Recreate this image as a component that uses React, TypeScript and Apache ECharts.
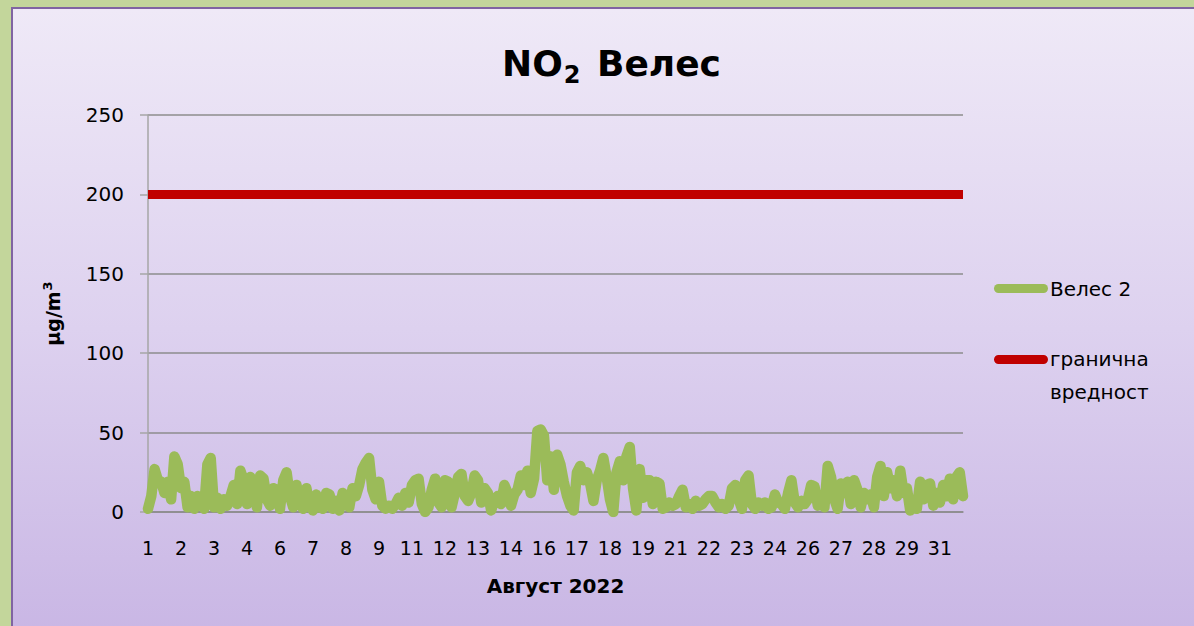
import React, { useEffect, useRef } from "react";
import * as echarts from "echarts";

// NO2 at station "Велес 2", August 2022, every 3 hours (8 values per day)
const no2Veles2: number[] = [
  2, 10, 27, 20, 19, 12, 19, 8, // 1
  35, 30, 15, 19, 3, 10, 2, 10, // 2
  8, 2, 30, 34, 3, 9, 2, 8, // 3
  4, 10, 17, 5, 26, 20, 5, 22, // 4
  15, 3, 23, 21, 8, 4, 15, 14, // 5
  2, 20, 25, 10, 3, 17, 6, 2, // 6
  15, 4, 1, 11, 3, 2, 12, 11, // 7
  2, 7, 1, 12, 5, 3, 15, 10, // 8
  17, 27, 31, 34, 14, 8, 19, 4, // 9
  2, 4, 2, 5, 9, 4, 12, 6, // 10
  17, 20, 21, 5, 0, 3, 14, 21, // 11
  6, 3, 20, 19, 3, 12, 22, 24, // 12
  10, 7, 12, 23, 20, 6, 15, 12, // 13
  1, 8, 10, 5, 17, 12, 4, 11, // 14
  14, 23, 17, 26, 12, 21, 51, 52, // 15
  48, 20, 35, 14, 36, 30, 19, 10, // 16
  4, 1, 25, 29, 20, 25, 18, 7, // 17
  20, 26, 34, 22, 8, 0, 25, 32, // 18
  20, 35, 41, 15, 1, 27, 9, 20, // 19
  20, 5, 19, 18, 2, 3, 6, 4, // 20
  5, 10, 14, 3, 5, 2, 7, 4, // 21
  5, 8, 10, 10, 6, 3, 5, 2, // 22
  4, 15, 17, 8, 2, 20, 23, 5, // 23
  2, 6, 4, 6, 2, 3, 11, 6, // 24
  5, 2, 12, 20, 6, 3, 7, 5, // 25
  8, 17, 16, 4, 10, 3, 29, 22, // 26
  8, 2, 18, 12, 19, 5, 20, 14, // 27
  3, 12, 8, 11, 3, 22, 29, 10, // 28
  25, 15, 20, 10, 26, 12, 15, 1, // 29
  3, 2, 19, 8, 17, 18, 4, 12, // 30
  6, 17, 10, 21, 8, 22, 25, 10, // 31
];
const stepHours = 3;
const limitValue = 200;
const seriesNames = ["Велес 2", "гранична вредност"];
const legendLines = ["гранична", "вредност"];
const titleMain = "NO";
const titleSub = "2";
const titleRest = " Велес";
const xAxisTitle = "Август 2022";
const yAxisTitleBase = "μg/m";
const yAxisTitleSup = "3";
const yMin = 0;
const yMax = 250;
const yStep = 50;

const categories = no2Veles2.map((_, i) => String(Math.floor((i * stepHours) / 24) + 1));
const limitSeries = no2Veles2.map(() => limitValue);

const FONT = "DejaVu Sans";

export default function App() {
  const ref = useRef<HTMLDivElement>(null);
  useEffect(() => {
    document.body.style.margin = "0";
    const chart = echarts.init(ref.current!, undefined, { renderer: "svg" });
    chart.setOption({
      animation: false,
      backgroundColor: "transparent",
      textStyle: { fontFamily: FONT },
      title: {
        text: `{n|${titleMain}}{s|${titleSub}}{n|${titleRest}}`,
        left: 497,
        top: 34,
        textStyle: {
          rich: {
            n: { fontSize: 36, fontWeight: "bold", color: "#000", fontFamily: FONT },
            s: { fontSize: 24, fontWeight: "bold", color: "#000", fontFamily: FONT, padding: [24, 4, 0, 1] },
          },
        },
      },
      grid: { left: 148, right: 231, top: 115, bottom: 114 },
      xAxis: {
        type: "category",
        data: categories,
        boundaryGap: false,
        axisLine: { lineStyle: { color: "#8c8c8c", width: 1.5 } },
        axisTick: { show: false },
        axisLabel: { interval: 9, fontSize: 19, color: "#000", margin: 26, fontFamily: FONT },
        name: xAxisTitle,
        nameLocation: "middle",
        nameGap: 64,
        nameTextStyle: { fontSize: 20, fontWeight: "bold", color: "#000", fontFamily: FONT },
      },
      yAxis: {
        type: "value",
        min: yMin,
        max: yMax,
        interval: yStep,
        axisLine: { show: true, lineStyle: { color: "#a6a6a6", width: 1.5 } },
        axisTick: { show: true, length: 8, lineStyle: { color: "#a6a6a6", width: 1.5 } },
        splitLine: { lineStyle: { color: "#8c8c8c", width: 1.5 } },
        axisLabel: { fontSize: 20, color: "#000", margin: 24, fontFamily: FONT },
        name: `{b|${yAxisTitleBase}}{p|${yAxisTitleSup}}`,
        nameLocation: "middle",
        nameRotate: 90,
        nameGap: 84,
        nameTextStyle: {
          rich: {
            b: { fontSize: 19, fontWeight: "bold", color: "#000", fontFamily: FONT },
            p: { fontSize: 13, fontWeight: "bold", color: "#000", fontFamily: FONT, padding: [0, 0, 10, 1] },
          },
        },
      },
      series: [
        {
          name: seriesNames[0],
          type: "line",
          data: no2Veles2,
          showSymbol: false,
          symbol: "none",
          lineStyle: { color: "#9bbb59", width: 10.5, cap: "round", join: "round" },
          z: 2,
        },
        {
          name: seriesNames[1],
          type: "line",
          data: limitSeries,
          showSymbol: false,
          symbol: "none",
          lineStyle: { color: "#c00000", width: 9 },
          z: 3,
        },
      ],
      graphic: [
        { type: "rect", shape: { x: 994, y: 284, width: 54, height: 9, r: 4.5 }, style: { fill: "#9bbb59" } },
        { type: "text", x: 1050, y: 289, style: { text: seriesNames[0], fontSize: 20, fill: "#000", fontFamily: FONT, verticalAlign: "middle" } },
        { type: "rect", shape: { x: 994, y: 355, width: 54, height: 9, r: 4.5 }, style: { fill: "#c00000" } },
        { type: "text", x: 1050, y: 359, style: { text: legendLines[0], fontSize: 20, fill: "#000", fontFamily: FONT, verticalAlign: "middle" } },
        { type: "text", x: 1050, y: 392, style: { text: legendLines[1], fontSize: 20, fill: "#000", fontFamily: FONT, verticalAlign: "middle" } },
      ],
    });
    return () => chart.dispose();
  }, []);

  return (
    <div style={{ position: "fixed", left: 0, top: 0, width: 1194, height: 626, background: "#c3d69b", overflow: "hidden" }}>
      <div
        style={{
          position: "absolute",
          left: 11,
          top: 7,
          width: 1200,
          height: 640,
          borderLeft: "2px solid #8064a2",
          borderTop: "2px solid #8064a2",
          background: "linear-gradient(to bottom, #efe9f7 0%, #ddd1ef 50%, #c8b5e4 100%)",
        }}
      />
      <div ref={ref} style={{ position: "absolute", left: 0, top: 0, width: 1194, height: 626 }} />
    </div>
  );
}
